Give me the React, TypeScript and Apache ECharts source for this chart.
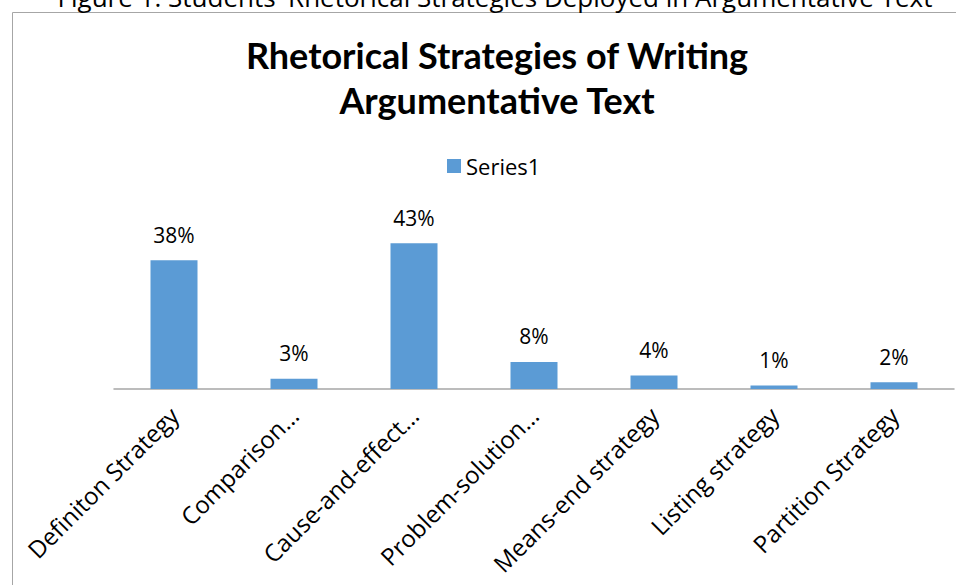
import React, { useEffect, useRef } from "react";
import * as echarts from "echarts";

const categories = [
  "Definiton Strategy",
  "Comparison…",
  "Cause-and-effect…",
  "Problem-solution…",
  "Means-end strategy",
  "Listing strategy",
  "Partition Strategy",
];
const values = [38, 3, 43, 8, 4, 1, 2];
const seriesName = "Series1";
const titleText = "Rhetorical Strategies of Writing\nArgumentative Text";
const captionText = "Figure 1: Students' Rhetorical Strategies Deployed in Argumentative Text";

export default function App() {
  const ref = useRef<HTMLDivElement>(null);
  useEffect(() => {
    if (!ref.current) return;
    const chart = echarts.init(ref.current, null, { renderer: "svg" });
    chart.setOption({
      animation: false,
      backgroundColor: "#ffffff",
      title: {
        text: titleText,
        left: 492,
        top: 27,
        textAlign: "center",
        textStyle: {
          fontFamily: "Lato",
          fontWeight: "bold",
          fontSize: 36,
          lineHeight: 45,
          color: "#000000",
        },
      },
      legend: {
        data: [seriesName],
        left: 447,
        top: 155,
        padding: 0,
        itemWidth: 14,
        itemHeight: 14,
        itemGap: 8,
        icon: "rect",
        textStyle: { fontFamily: "Open Sans", fontSize: 22, color: "#000000" },
      },
      graphic: [
        {
          type: "rect",
          silent: true,
          z: -1,
          shape: { x: 12.5, y: 12.5, width: 2000, height: 2000 },
          style: { fill: "none", stroke: "#a6a6a6", lineWidth: 1 },
        },
        {
          type: "text",
          silent: true,
          x: 495,
          y: -16,
          style: {
            text: captionText,
            align: "center",
            fontFamily: "Open Sans",
            fontSize: 26,
            fill: "#000000",
          },
        },
      ],
      grid: {
        left: 114,
        right: 2,
        top: 219.5,
        bottom: 196,
        containLabel: false,
      },
      xAxis: {
        type: "category",
        data: categories,
        axisLine: { lineStyle: { color: "#a6a6a6", width: 1.5 } },
        axisTick: { show: false },
        axisLabel: {
          interval: 0,
          rotate: 45,
          margin: 22,
          fontFamily: "Open Sans",
          fontSize: 24,
          color: "#000000",
        },
      },
      yAxis: {
        type: "value",
        min: 0,
        max: 50,
        show: false,
      },
      series: [
        {
          name: seriesName,
          type: "bar",
          data: values,
          barWidth: 47,
          itemStyle: { color: "#5b9bd5" },
          label: {
            show: true,
            position: "top",
            distance: 15,
            formatter: "{c}%",
            fontFamily: "Open Sans",
            fontSize: 21,
            color: "#000000",
          },
        },
      ],
    });
    return () => chart.dispose();
  }, []);
  return (
    <div
      ref={ref}
      style={{ position: "fixed", left: 0, top: 0, width: 956, height: 585 }}
    />
  );
}
